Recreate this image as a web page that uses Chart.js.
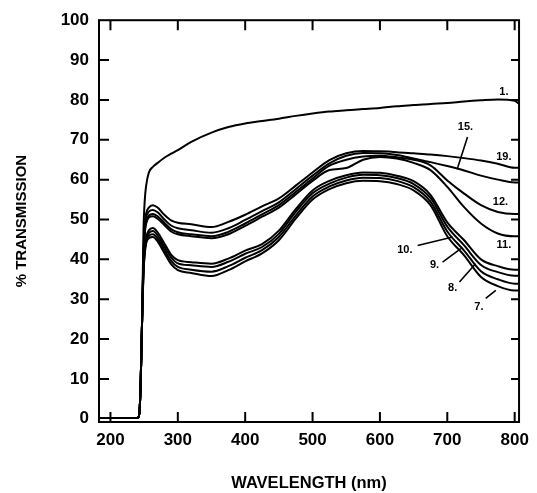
<!DOCTYPE html>
<html><head><meta charset="utf-8">
<script src="https://cdn.jsdelivr.net/npm/chart.js@4/dist/chart.umd.min.js"></script>
<style>html,body{margin:0;padding:0;background:#fff}#wrap{width:537px;height:493px}</style>
</head><body><div id="wrap"><canvas id="c" width="537" height="493"></canvas></div>
<script>
const wavelengths = [183,240,243,245,247,249,251,253,257,263,270,280,290,300,320,350,375,400,425,450,475,500,525,550,575,600,625,650,675,700,725,750,775,800,806];
const curve1 = [0.2,0.2,1.5,10,25,47,55,58.5,61.8,63.2,64.2,65.5,66.5,67.4,69.5,71.8,73.2,74.1,74.7,75.3,76.0,76.6,77.1,77.4,77.7,78.0,78.4,78.7,79.0,79.2,79.6,79.9,80.1,79.8,79.1];
const curve19 = [0.2,0.2,1.5,10,25,42,49,51.5,53,53.6,53.0,51.2,49.8,49.2,48.8,48.1,49.4,51.2,53.3,55.3,58.5,61.8,64.9,66.6,67.2,67.1,66.9,66.6,66.3,65.9,65.4,64.8,64.0,63.0,63.0];
const curve15 = [0.2,0.2,1.5,10,25,41,48,50.5,52,52.4,51.8,50.0,48.5,47.8,47.3,46.7,47.8,49.9,52.1,54.3,57.6,61.0,64.1,66.0,66.7,66.6,66.2,65.3,64.4,63.4,62.3,61.0,60.0,59.3,59.3];
const curve12 = [0.2,0.2,1.5,10,25,40,47,49.5,51,51.4,50.8,49.2,47.6,46.8,46.3,45.8,46.9,49.0,51.3,53.6,56.9,60.3,63.5,65.0,65.8,66.0,65.6,65.0,63.6,59.8,56.5,53.6,51.9,51.4,51.4];
const curve11 = [0.2,0.2,1.5,10,25,39.5,46.5,49,50.5,50.8,50.2,48.6,47.0,46.3,45.8,45.3,46.3,48.4,50.7,53.0,56.3,59.7,62.4,62.9,65.0,65.7,65.3,64.2,62.4,58.2,53.1,49.0,46.5,45.8,45.8];
const curve10 = [0.2,0.2,1.5,10,25,38,43,45.5,47.3,47.9,46.8,44.0,41.2,39.8,39.3,38.9,40.2,42.2,43.8,47.2,52.6,57.3,59.7,61.1,61.8,61.7,61.0,59.6,56.2,49.3,44.8,40.0,38.3,37.4,37.4];
const curve9 = [0.2,0.2,1.5,10,25,37.5,42.5,45,46.6,47.1,46.0,43.2,40.5,39.0,38.5,38.1,39.4,41.4,43.1,46.4,51.9,56.6,59.0,60.5,61.2,61.1,60.4,58.9,55.4,48.2,43.5,38.6,36.8,35.9,35.9];
const curve8 = [0.2,0.2,1.5,10,25,37,42,44.5,45.9,46.3,45.2,42.4,39.6,38.1,37.4,36.9,38.3,40.4,42.3,45.6,51.0,55.8,58.3,59.8,60.5,60.4,59.7,58.1,54.5,47.0,42.2,37.0,35.0,33.9,33.9];
const curve7 = [0.2,0.2,1.5,10,25,36.5,41.5,44,45.3,45.6,44.5,41.6,38.8,37.3,36.6,35.8,37.3,39.5,41.5,44.8,50.2,55.0,57.6,59.1,59.7,59.6,58.9,57.3,53.6,45.8,41.0,35.6,33.3,32.2,32.2];
const xTicks = [200,300,400,500,600,700,800];
const yTicks = [0,10,20,30,40,50,60,70,80,90,100];
const curveLabels = ['1.','15.','19.','12.','11.','10.','9.','8.','7.'];
const labelX = [784,727,784,779,784,637,681,708,747];
const labelY = [82.0,73.2,65.7,54.4,43.5,42.3,38.5,32.7,28.1];
const leaderFromX = [730,656,693,718,757];
const leaderFromY = [70.7,43.5,39.3,34.3,30.2];
const leaderToX = [715,708,720,742,772];
const leaderToY = [62.8,45.6,42.7,38.9,32.2];

const series = [curve1,curve19,curve15,curve12,curve11,curve10,curve9,curve8,curve7];
const names = ['1','19','15','12','11','10','9','8','7'];
const datasets = series.map((vals,i)=>({
  label: names[i],
  data: vals.map((v,j)=>({x:wavelengths[j], y:v})),
  borderColor:'#000', borderWidth:2, pointRadius:0, fill:false,
  cubicInterpolationMode:'monotone'
}));

const FONT = '"Liberation Sans", Arial, sans-serif';

const decor = {
  id:'decor',
  afterDatasetsDraw(chart){
    const ctx = chart.ctx, a = chart.chartArea;
    const xs = chart.scales.x, ys = chart.scales.y;
    ctx.save();
    ctx.strokeStyle = '#000'; ctx.lineWidth = 2;
    ctx.strokeRect(a.left, a.top, a.right - a.left, a.bottom - a.top);
    ctx.beginPath();
    yTicks.forEach(v=>{
      if (v===0 || v===100) return;
      const y = ys.getPixelForValue(v);
      ctx.moveTo(a.left, y); ctx.lineTo(a.left+10, y);
      ctx.moveTo(a.right, y); ctx.lineTo(a.right-8, y);
    });
    xTicks.forEach(v=>{
      const x = xs.getPixelForValue(v);
      ctx.moveTo(x, a.bottom); ctx.lineTo(x, a.bottom-10);
      ctx.moveTo(x, a.top); ctx.lineTo(x, a.top+10);
    });
    ctx.stroke();
    // leaders
    ctx.lineWidth = 1.6;
    ctx.beginPath();
    leaderFromX.forEach((v,i)=>{
      ctx.moveTo(xs.getPixelForValue(v), ys.getPixelForValue(leaderFromY[i]));
      ctx.lineTo(xs.getPixelForValue(leaderToX[i]), ys.getPixelForValue(leaderToY[i]));
    });
    ctx.stroke();
    ctx.fillStyle = '#000';
    ctx.font = 'bold 11px ' + FONT;
    ctx.textAlign = 'center'; ctx.textBaseline = 'middle';
    curveLabels.forEach((t,i)=>{
      ctx.fillText(t, xs.getPixelForValue(labelX[i]), ys.getPixelForValue(labelY[i]));
    });
    ctx.restore();
  }
};

new Chart(document.getElementById('c'), {
  type:'line',
  data:{datasets},
  options:{
    responsive:false, animation:false, devicePixelRatio:1,
    layout:{padding:{top:20,right:15,left:0,bottom:0}},
    plugins:{legend:{display:false}, tooltip:{enabled:false}},
    scales:{
      x:{
        type:'linear', min:183, max:806.5,
        afterBuildTicks(s){ s.ticks = xTicks.map(v=>({value:v})); },
        afterFit(s){ s.height = 71; },
        grid:{display:false, drawTicks:false}, border:{display:false},
        ticks:{color:'#000', font:{family:FONT, size:17, weight:'bold'}, padding:8, maxRotation:0, autoSkip:false},
        title:{display:true, text:'WAVELENGTH (nm)', color:'#000', font:{family:FONT, size:16.5, weight:'bold'}, padding:{top:0,bottom:0}}
      },
      y:{
        type:'linear', min:-0.8, max:100,
        afterBuildTicks(s){ s.ticks = yTicks.map(v=>({value:v})); },
        afterFit(s){ s.width = 99; },
        grid:{display:false, drawTicks:false}, border:{display:false},
        ticks:{color:'#000', font:{family:FONT, size:17, weight:'bold'}, padding:10},
        title:{display:true, text:'% TRANSMISSION', color:'#000', font:{family:FONT, size:15, weight:'bold'}, padding:{top:13,bottom:0}}
      }
    }
  },
  plugins:[decor]
});
</script>
</body></html>
